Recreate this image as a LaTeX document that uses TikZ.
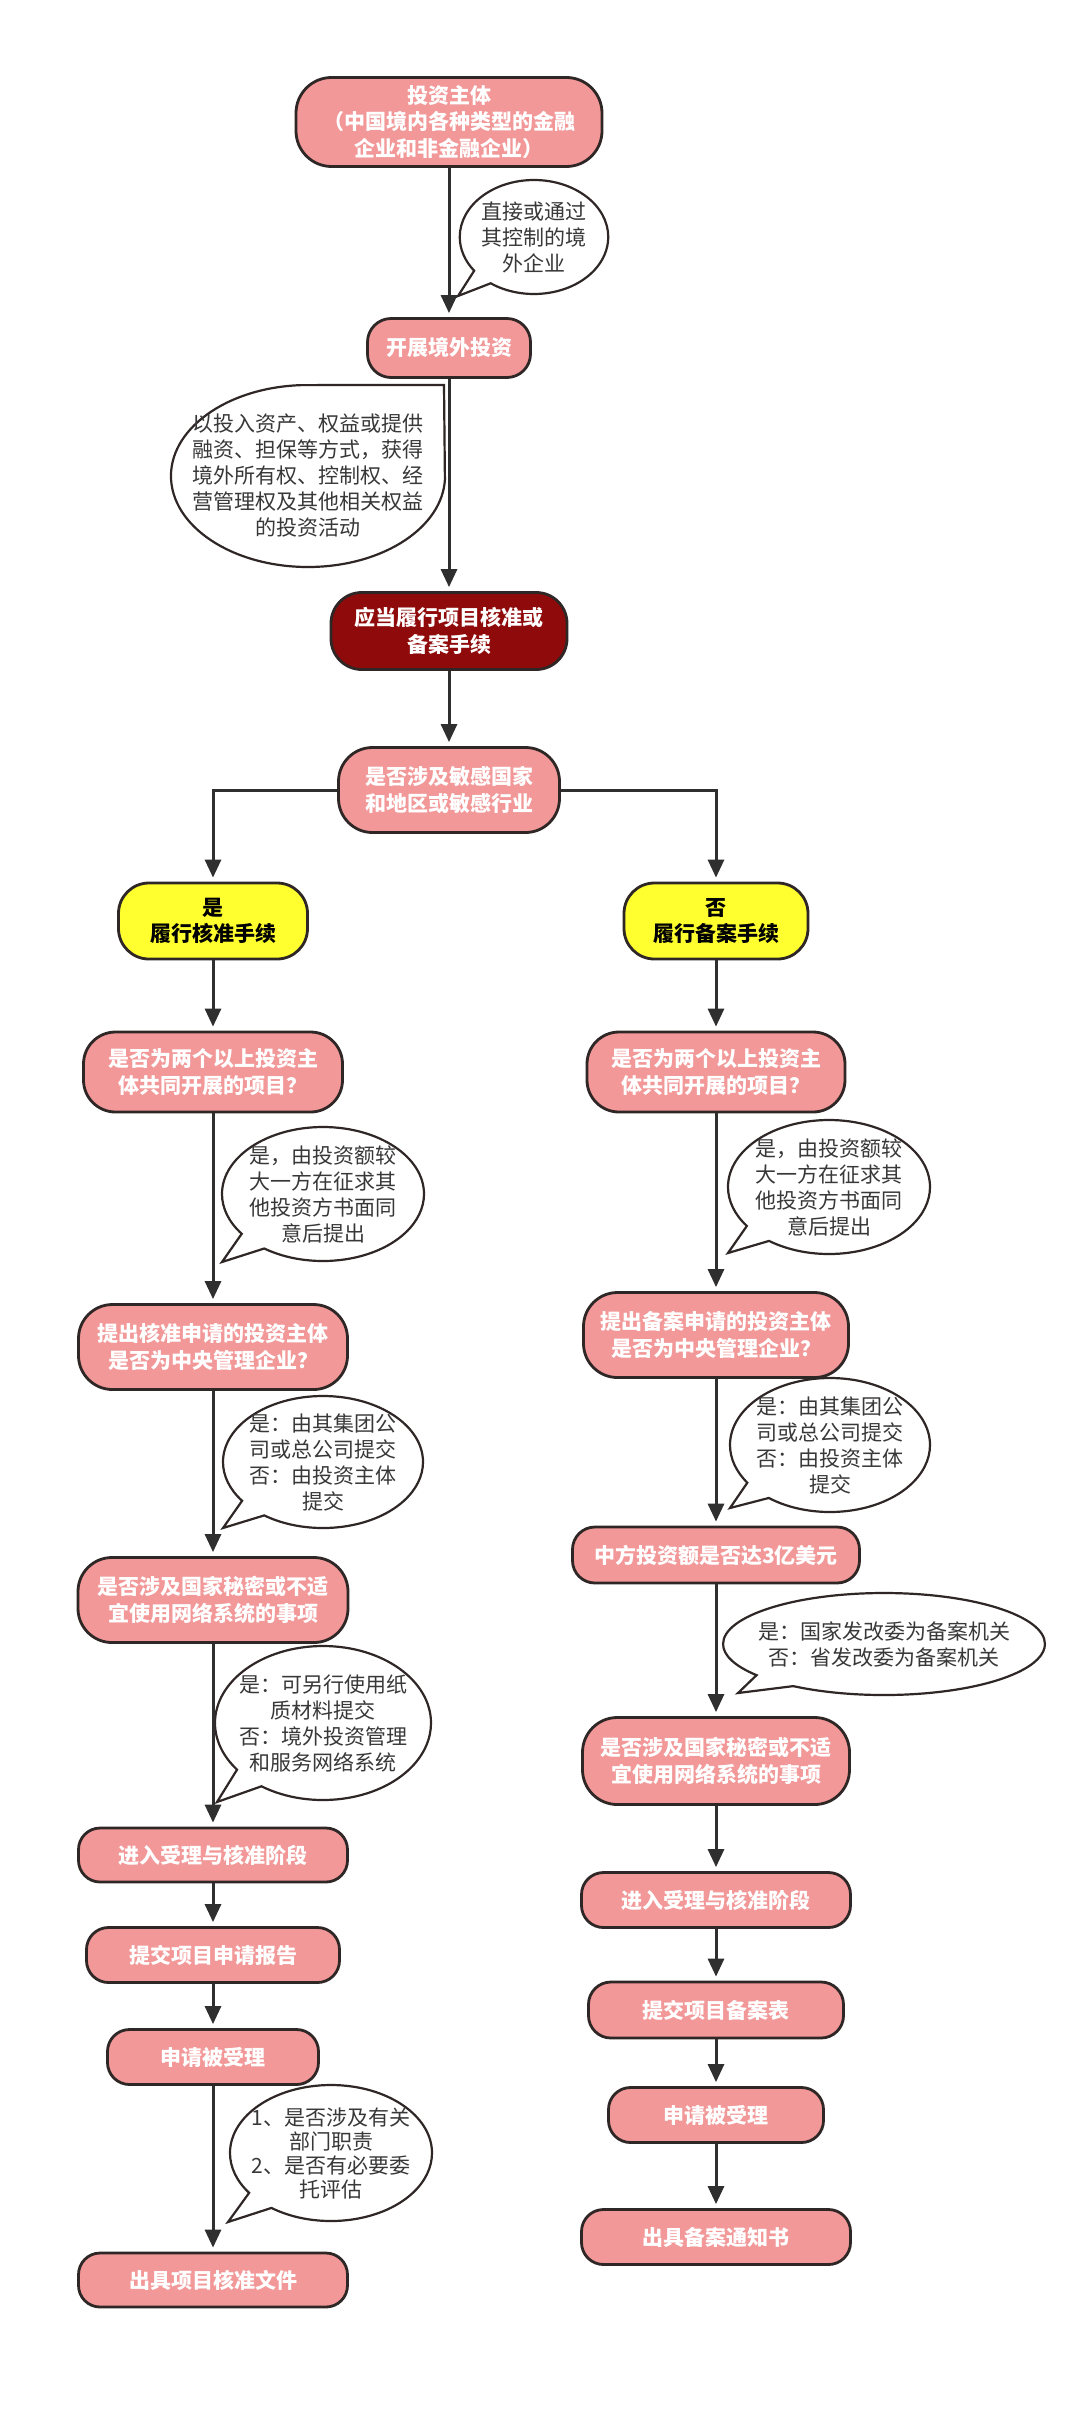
\documentclass[tikz,border=0pt]{standalone}
\usepackage{fontspec}
\setmainfont{Noto Sans CJK SC}
\usetikzlibrary{arrows.meta,shapes.callouts}
\definecolor{pinkfill}{HTML}{F29898}
\definecolor{darkred}{HTML}{8F0A0A}
\definecolor{yellowfill}{HTML}{FFFF30}
\definecolor{edgec}{HTML}{2F2626}
\definecolor{arrowc}{HTML}{2F2F2F}
\definecolor{ctext}{HTML}{383838}
\begin{document}
\begin{tikzpicture}[x=0.5pt,y=-0.5pt,
  boxbase/.style={draw=edgec, line width=1.4pt, align=center, inner sep=0pt,
    font=\fontsize{10.5pt}{13.3pt}\selectfont\bfseries},
  pinkbox/.style 2 args={boxbase, fill=pinkfill, text=white,
    minimum width=#1*0.5pt, minimum height=#2*0.5pt, rounded corners=#2*0.2pt},
  redbox/.style 2 args={pinkbox={#1}{#2}, fill=darkred},
  yellowbox/.style 2 args={pinkbox={#1}{#2}, fill=yellowfill, text=black},
  callnote/.style={ellipse callout, draw=edgec, line width=1.1pt, fill=white,
    text=ctext, align=center, inner xsep=-1.5pt, inner ysep=-2pt,
    font=\fontsize{10.5pt}{13pt}\selectfont, callout pointer arc=18},
  arr/.style={draw=arrowc, line width=1.5pt, -{Triangle[length=9pt,width=8pt]}, shorten >=2pt}
]
\path[use as bounding box, fill=white] (0,0) rectangle (1080,2425);

% pointer targets of the callouts
\coordinate (p1) at (458,296);
\coordinate (p2) at (444,385);
\coordinate (pl1) at (222,1262);
\coordinate (pl2) at (223,1528);
\coordinate (pl3) at (217,1802);
\coordinate (pl6) at (228,2222);
\coordinate (pr1) at (728,1253);
\coordinate (pr2) at (730,1508);
\coordinate (pr3) at (738,1693);

% top part
\node[pinkbox={306}{89}] (n1) at (449,122) {投资主体\\（中国境内各种类型的金融\\企业和非金融企业）};
\node[callnote, inner xsep=0pt, minimum width=74pt, minimum height=57pt,
  callout absolute pointer={(p1)}] (c1) at (534,237) {直接或通过\\其控制的境\\外企业};
\node[pinkbox={163}{59}] (n2) at (449,348) {开展境外投资};
\node[callnote, inner xsep=-9.3pt, inner ysep=0pt, minimum width=137pt, minimum height=91pt,
  callout pointer arc=95, callout absolute pointer={(p2)}] (c2) at (308,476)
  {以投入资产、权益或提供\\融资、担保等方式，获得\\境外所有权、控制权、经\\营管理权及其他相关权益\\的投资活动};
\node[redbox={236}{77}] (n3) at (449,631) {应当履行项目核准或\\备案手续};
\node[pinkbox={221}{85}] (n4) at (449,790) {是否涉及敏感国家\\和地区或敏感行业};

\node[yellowbox={189}{76}] (yl) at (213,921) {是\\履行核准手续};
\node[yellowbox={184}{76}] (yr) at (716,921) {否\\履行备案手续};

% left column
\node[pinkbox={259}{80}] (L1) at (213,1072) {是否为两个以上投资主\\体共同开展的项目？};
\node[callnote, minimum width=101pt, minimum height=67pt,
  callout absolute pointer={(pl1)}] (cL1) at (323,1194) {是，由投资额较\\大一方在征求其\\他投资方书面同\\意后提出};
\node[pinkbox={269}{85}] (L2) at (213,1347) {提出核准申请的投资主体\\是否为中央管理企业？};
\node[callnote, minimum width=100pt, minimum height=66pt,
  callout absolute pointer={(pl2)}] (cL2) at (323,1462) {是：由其集团公\\司或总公司提交\\否：由投资主体\\提交};
\node[pinkbox={270}{85}] (L3) at (213,1600) {是否涉及国家秘密或不适\\宜使用网络系统的事项};
\node[callnote, inner xsep=-4pt, minimum width=108pt, minimum height=77pt,
  callout absolute pointer={(pl3)}] (cL3) at (323,1723) {是：可另行使用纸\\质材料提交\\否：境外投资管理\\和服务网络系统};
\node[pinkbox={269}{54}] (L4) at (213,1855) {进入受理与核准阶段};
\node[pinkbox={253}{55}] (L5) at (213,1955) {提交项目申请报告};
\node[pinkbox={211}{55}] (L6) at (213,2057) {申请被受理};
\node[callnote, inner xsep=-4pt, minimum width=101pt, minimum height=68pt,
  font=\fontsize{10.5pt}{12pt}\selectfont,
  callout absolute pointer={(pl6)}] (cL6) at (331,2153) {1、是否涉及有关\\部门职责\\2、是否有必要委\\托评估};
\node[pinkbox={269}{54}] (L7) at (213,2280) {出具项目核准文件};

% right column
\node[pinkbox={258}{80}] (R1) at (716,1072) {是否为两个以上投资主\\体共同开展的项目？};
\node[callnote, minimum width=101pt, minimum height=67pt,
  callout absolute pointer={(pr1)}] (cR1) at (829,1187) {是，由投资额较\\大一方在征求其\\他投资方书面同\\意后提出};
\node[pinkbox={265}{85}] (R2) at (716,1335) {提出备案申请的投资主体\\是否为中央管理企业？};
\node[callnote, minimum width=100pt, minimum height=67pt,
  callout absolute pointer={(pr2)}] (cR2) at (830,1445) {是：由其集团公\\司或总公司提交\\否：由投资主体\\提交};
\node[pinkbox={287}{56}] (R3) at (716,1555) {中方投资额是否达3亿美元};
\node[callnote, inner xsep=-6.1pt, minimum width=146pt, minimum height=51pt,
  callout absolute pointer={(pr3)}] (cR3) at (884,1644) {是：国家发改委为备案机关\\否：省发改委为备案机关};
\node[pinkbox={267}{87}] (R4) at (716,1761) {是否涉及国家秘密或不适\\宜使用网络系统的事项};
\node[pinkbox={269}{55}] (R5) at (716,1900) {进入受理与核准阶段};
\node[pinkbox={255}{56}] (R6) at (716,2010) {提交项目备案表};
\node[pinkbox={215}{55}] (R7) at (716,2115) {申请被受理};
\node[pinkbox={269}{55}] (R8) at (716,2237) {出具备案通知书};

% connectors
\draw[arr] (n1) -- (n2);
\draw[arr] (n2) -- (n3);
\draw[arr] (n3) -- (n4);
\draw[arr] (n4.west) -| (yl.north);
\draw[arr] (n4.east) -| (yr.north);
\draw[arr] (yl) -- (L1);
\draw[arr] (L1) -- (L2);
\draw[arr] (L2) -- (L3);
\draw[arr] (L3) -- (L4);
\draw[arr] (L4) -- (L5);
\draw[arr] (L5) -- (L6);
\draw[arr] (L6) -- (L7);
\draw[arr] (yr) -- (R1);
\draw[arr] (R1) -- (R2);
\draw[arr] (R2) -- (R3);
\draw[arr] (R3) -- (R4);
\draw[arr] (R4) -- (R5);
\draw[arr] (R5) -- (R6);
\draw[arr] (R6) -- (R7);
\draw[arr] (R7) -- (R8);
\end{tikzpicture}
\end{document}
